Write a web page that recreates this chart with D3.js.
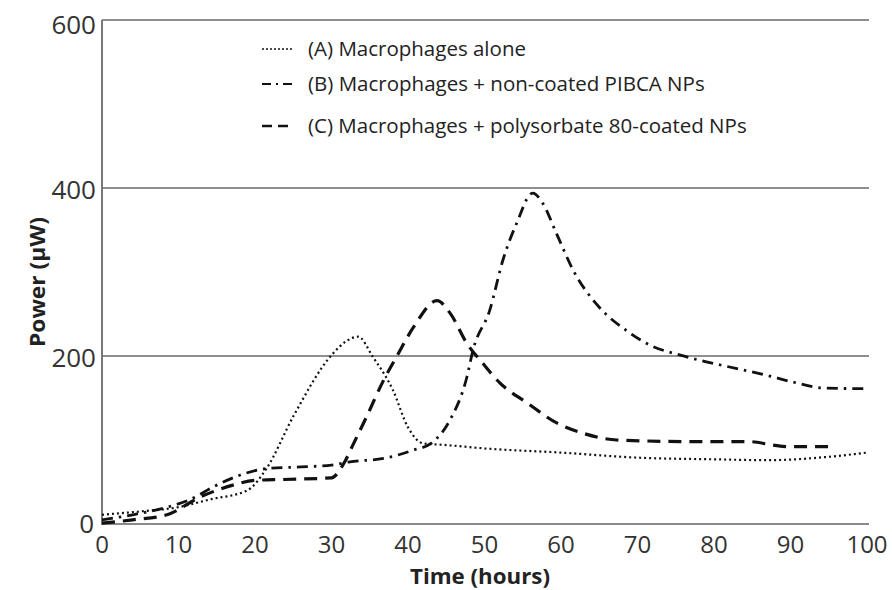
<!DOCTYPE html>
<html><head><meta charset="utf-8">
<script src="https://cdn.jsdelivr.net/npm/d3@7"></script>
<style>body{margin:0;background:#fff}svg{display:block}text{font-family:"Open Sans",Lato,sans-serif}</style>
</head><body>
<svg id="c" width="892" height="590"></svg>
<script>
const xTicks = [0,10,20,30,40,50,60,70,80,90,100];
const yTicks = [0,200,400,600];
const seriesNames = ["(A) Macrophages alone","(B) Macrophages + non-coated PIBCA NPs","(C) Macrophages + polysorbate 80-coated NPs"];
const timeA = [0,5,10,14,19,21.5,25,30,32,33.5,35.4,38,40,42,45,50,60,70,80,87,95,100];
const powerA = [11,15,20,29,40,66,128,201,218,223,199,160,115,96,94,90,85,79,77,76,80,85];
const timeB = [0,4,8.5,11.5,14.5,18,21.5,26,30,32.4,36.8,40.7,43,45.5,47.7,48.5,50.7,52.4,54.2,56.3,57.6,59.4,61.6,65,68.6,71.6,75.6,79,83,86.9,90.3,94.2,100];
const powerB = [5,11,20,29,44,58,66,68,70,74,78,88,96,124,175,207,255,314,358,394,382,346,302,258,230,213,201,193,185,177,169,162,161];
const timeC = [0,4,8.5,12.8,17,20,23.7,30,31.6,32.9,34.6,36.8,38.5,40.7,43.8,45.5,47.7,49.8,52,55.6,59.5,62.9,67.3,78,84.7,87.7,90,95];
const powerC = [1,5,11,32,46,52,53,55,72,96,128,171,199,234,266,251,215,191,168,144,120,108,100,98,98,94,92,92];

const svg = d3.select("#c");
const x = d3.scaleLinear().domain([0,100]).range([102,867]);
const y = d3.scaleLinear().domain([0,600]).range([524,20]);
const gridCol = "#6a6a6a";

svg.append("g").selectAll("line").data(yTicks.filter(d=>d>0)).join("line")
  .attr("x1",x(0)).attr("x2",869).attr("y1",d=>y(d)).attr("y2",d=>y(d))
  .attr("stroke",gridCol).attr("stroke-width",1.6);
svg.append("line").attr("x1",x(0)).attr("x2",x(0)).attr("y1",y(600)).attr("y2",y(0)+1).attr("stroke",gridCol).attr("stroke-width",1.8);
svg.append("line").attr("x1",x(0)).attr("x2",869).attr("y1",y(0)).attr("y2",y(0)).attr("stroke","#8a8a8a").attr("stroke-width",1.8);

svg.append("g").selectAll("text").data(yTicks).join("text")
  .attr("x",d=>d===0?94:96).attr("y",d=>y(d)+(d===600?14:(d===0?9:11))).attr("text-anchor","end")
  .attr("font-size",26).attr("fill","#333").text(d=>d);
svg.append("g").selectAll("text").data(xTicks).join("text")
  .attr("x",d=>x(d)).attr("y",553).attr("text-anchor","middle")
  .attr("font-size",24).attr("fill","#333").text(d=>d);

svg.append("text").attr("x",480).attr("y",584).attr("text-anchor","middle")
  .attr("font-size",21).attr("font-weight","bold").attr("fill","#222")
  .attr("textLength",140).attr("lengthAdjust","spacingAndGlyphs").text("Time (hours)");
svg.append("text").attr("transform","translate(45,282) rotate(-90)").attr("text-anchor","middle")
  .attr("font-size",21).attr("font-weight","bold").attr("fill","#222")
  .attr("textLength",130).attr("lengthAdjust","spacingAndGlyphs").text("Power (µW)");

const styles = [
  {dash:"2,3", w:2.2},
  {dash:"11,6,2.5,6", w:2.8},
  {dash:"13,8", w:3.2}
];
const series = [[timeA,powerA],[timeB,powerB],[timeC,powerC]];
const line = d3.line().x(d=>x(d[0])).y(d=>y(d[1])).curve(d3.curveMonotoneX);
series.forEach((s,i)=>{
  const pts = s[0].map((t,j)=>[t,s[1][j]]);
  svg.append("path").datum(pts).attr("d",line).attr("fill","none")
    .attr("stroke","#111").attr("stroke-width",styles[i].w).attr("stroke-dasharray",styles[i].dash);
});

const legY = [49,84,126];
seriesNames.forEach((n,i)=>{
  svg.append("line").attr("x1",262).attr("x2",292).attr("y1",legY[i]).attr("y2",legY[i])
    .attr("stroke","#111").attr("stroke-width",i===0?1.6:(i===1?2:2.6))
    .attr("stroke-dasharray",i===0?"2,2":(i===1?"9,5,2,5":"10,6"));
  svg.append("text").attr("x",308).attr("y",legY[i]+7).attr("font-size",20.5).attr("fill","#222").text(n);
});
</script>
</body></html>
